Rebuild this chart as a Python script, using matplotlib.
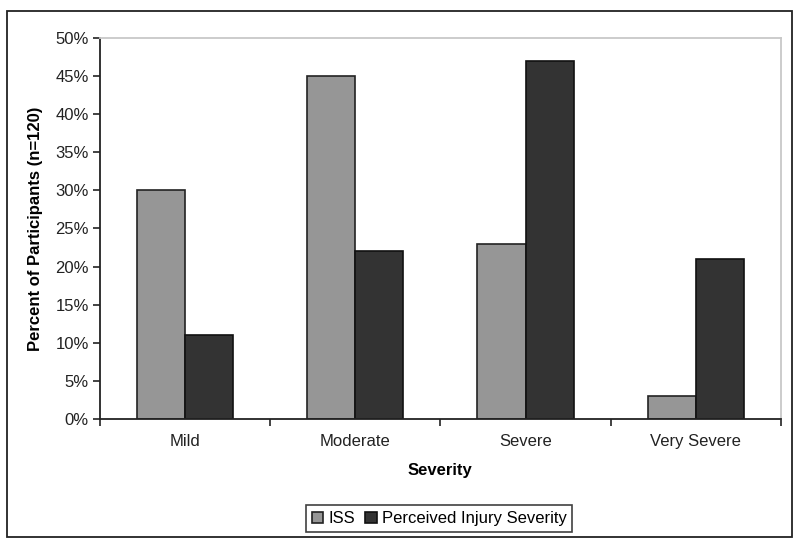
import matplotlib.pyplot as plt
from matplotlib import patches
from matplotlib.ticker import PercentFormatter, FixedLocator
import numpy as np

categories = ['Mild', 'Moderate', 'Severe', 'Very Severe']
iss = [30, 45, 23, 3]
perceived = [11, 22, 47, 21]
series_names = ['ISS', 'Perceived Injury Severity']

plt.rcParams['font.family'] = ['Liberation Sans', 'DejaVu Sans']

fig = plt.figure(figsize=(8, 5.48), dpi=100)
ax = fig.add_axes([0.125, 0.2354, 0.851, 0.6953])

x = np.arange(len(categories))
w = 0.283
ax.bar(x - w / 2, iss, w, color='#969696', edgecolor='#222222', linewidth=1.2, label=series_names[0])
ax.bar(x + w / 2, perceived, w, color='#333333', edgecolor='#111111', linewidth=1.2, label=series_names[1])

ax.set_xlim(-0.5, len(categories) - 0.5)
ax.set_ylim(0, 50)
ax.set_yticks(np.arange(0, 51, 5))
ax.yaxis.set_major_formatter(PercentFormatter(decimals=0))
ax.set_xticks(x)
ax.set_xticklabels(categories)
ax.xaxis.set_minor_locator(FixedLocator(np.arange(-0.5, len(categories), 1)))
ax.tick_params(axis='x', which='major', length=0, pad=11, labelsize=12, colors='#222222')
ax.tick_params(axis='x', which='minor', length=5, direction='out', width=1.2)
ax.tick_params(axis='y', length=5, width=1.2, labelsize=12, colors='#222222', pad=3)
ax.tick_params(axis='both', which='both', color='#222222')

for s in ['left', 'bottom']:
    ax.spines[s].set_color('#222222')
    ax.spines[s].set_linewidth(1.3)
for s in ['top', 'right']:
    ax.spines[s].set_color('#c8c8c8')
    ax.spines[s].set_linewidth(1.3)

ax.set_xlabel('Severity', fontsize=12, fontweight='bold', labelpad=10)
ax.set_ylabel('Percent of Participants (n=120)', fontsize=12, fontweight='bold', labelpad=9)

leg = ax.legend(loc='center', bbox_to_anchor=(0.498, -0.262), ncol=2, frameon=True, fancybox=False,
                edgecolor='#111111', fontsize=12, handlelength=0.7, handleheight=0.7,
                handletextpad=0.3, columnspacing=0.6, borderpad=0.35)
leg.get_frame().set_linewidth(1.2)

border = patches.Rectangle((0.00875, 0.0201), 0.981, 0.960, transform=fig.transFigure,
                           fill=False, edgecolor='#222222', linewidth=1.3)
fig.patches.append(border)

fig.savefig('out.png', dpi=100)
